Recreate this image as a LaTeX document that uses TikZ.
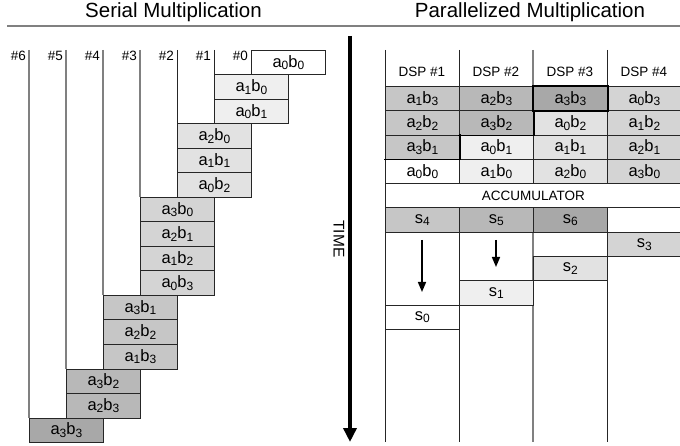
\documentclass[tikz,border=0pt]{standalone}
\usepackage{fontspec}
\setmainfont{Liberation Sans}
\usetikzlibrary{arrows.meta}
\definecolor{c0}{HTML}{FFFFFF}
\definecolor{c1}{HTML}{EFEFEF}
\definecolor{c2}{HTML}{E2E2E2}
\definecolor{c3}{HTML}{D4D4D4}
\definecolor{c4}{HTML}{C6C6C6}
\definecolor{c5}{HTML}{B8B8B8}
\definecolor{c6}{HTML}{A8A8A8}
\definecolor{edge}{HTML}{262626}
\definecolor{rulec}{HTML}{808080}
\newcommand\mysub[1]{\raisebox{-2.6pt}{\fontsize{12}{12}\selectfont #1}}
\newcommand\pr[2]{a\mysub{#1}b\mysub{#2}}
\newcommand\sm[1]{s\mysub{#1}}
\begin{document}
\begin{tikzpicture}[x=1pt,y=-1pt,
  cell/.style={draw=edge, line width=0.8pt, rectangle, minimum width=74pt, minimum height=24.5pt, inner sep=0pt, anchor=north west, font=\fontsize{16.5}{18}\selectfont},
  pcell/.style={cell, minimum height=24.3pt},
  lab/.style={inner sep=0pt, font=\fontsize{13.5}{15}\selectfont},
  title/.style={inner sep=0pt, anchor=base, font=\fontsize{20.5}{24}\selectfont},
  colline/.style={line width=1.2pt, draw=rulec},
  darkline/.style={line width=0.8pt, draw=edge},
  thickedge/.style={line width=1.4pt, draw=black, line cap=rect}]
\useasboundingbox (0,0) rectangle (680,446);

% titles
\node[title] (t1) at (173.5,18) {Serial Multiplication};
\node[title] (t2) at (530,18) {Parallelized Multiplication};
\coordinate (sepL) at (7,26);
\coordinate (sepR) at (680,26);
\draw[line width=1.5pt, draw=rulec] (sepL) -- (sepR);

% ---------- serial ----------
\foreach \i/\a/\b/\s/\L in {0/0/0/0/251, 1/1/0/1/214, 2/0/1/1/214,
  3/2/0/2/177, 4/1/1/2/177, 5/0/2/2/177,
  6/3/0/3/140, 7/2/1/3/140, 8/1/2/3/140, 9/0/3/3/140,
  10/3/1/4/103, 11/2/2/4/103, 12/1/3/4/103,
  13/3/2/5/66, 14/2/3/5/66, 15/3/3/6/29}
  \node[cell, fill=c\s] (L\a\b) at ({\L},{50+24.5*\i}) {\pr{\a}{\b}};

\foreach \k/\x in {6/29, 5/66, 4/103, 3/140, 2/177, 1/214}
  \coordinate (v\k) at (\x,50);
\draw[colline] (v6) -- (L33.north west);
\draw[colline] (v5) -- (L32.north west);
\draw[colline] (v4) -- (L31.north west);
\draw[colline] (v3) -- (L30.north west);
\draw[darkline] (v2) -- (L20.north west);
\draw[darkline] (v1) -- (L10.north west);

\foreach \k/\x in {6/29, 5/66, 4/103, 3/140, 2/177, 1/214, 0/251}
  \node[lab, anchor=east] (h\k) at (\x-3,56) {\#\k};

% ---------- time arrow ----------
\coordinate (tt) at (350,36);
\coordinate (tb) at (350,442);
\draw[line width=3.5pt, -{Triangle[width=13pt,length=14pt]}] (tt) -- (tb);
\node[inner sep=0pt, rotate=-90, font=\fontsize{15.5}{17}\selectfont] (time) at (339,239) {TIME};

% ---------- parallel ----------
\foreach \c/\x in {1/385, 2/459, 3/533, 4/607} {
  \coordinate (ct\c) at (\x,50);
  \coordinate (cb\c) at (\x,442);
}
\draw[darkline] (ct1) -- (cb1);
\draw[darkline] (ct2) -- (cb2);
\draw[colline] (ct3) -- (cb3);
\draw[darkline] (ct4) -- (cb4);

\foreach \c/\x in {1/422, 2/496, 3/570, 4/644}
  \node[lab] (dsp\c) at (\x,72) {DSP \#\c};

% product rows
\foreach \r/\a/\b/\s/\c in {
  1/1/3/4/1, 1/2/3/5/2, 1/3/3/6/3, 1/0/3/3/4,
  2/2/2/4/1, 2/3/2/5/2, 2/0/2/2/3, 2/1/2/3/4,
  3/3/1/4/1, 3/0/1/1/2, 3/1/1/2/3, 3/2/1/3/4,
  4/0/0/0/1, 4/1/0/1/2, 4/2/0/2/3, 4/3/0/3/4}
  \node[pcell, fill=c\s] (P\a\b) at ({385+74*(\c-1)},{86+24.3*(\r-1)}) {\pr{\a}{\b}};

% staircase emphasis
\draw[thickedge] (P31.north east) -- (P31.south east) -- (P31.south west);
\draw[thickedge] (P32.north east) -- (P32.south east) -- (P32.south west);
\draw[thickedge] (P33.north west) rectangle (P33.south east);

% accumulator
\node[pcell, minimum width=296pt, fill=white, font=\fontsize{13.5}{15}\selectfont] (acc) at (385,183.2) {ACCUMULATOR};

% sums
\node[pcell, fill=c4] (s4) at (385,207.5) {\sm{4}};
\node[pcell, fill=c5] (s5) at (459,207.5) {\sm{5}};
\node[pcell, fill=c6] (s6) at (533,207.5) {\sm{6}};
\node[pcell, fill=white] (e4) at (607,207.5) {};
\node[pcell, fill=c3] (s3) at (607,231.8) {\sm{3}};
\node[pcell, fill=c2] (s2) at (533,256.1) {\sm{2}};
\node[pcell, fill=c1] (s1) at (459,280.4) {\sm{1}};
\node[pcell, fill=white] (s0) at (385,304.7) {\sm{0}};

% shift arrows
\coordinate (a1t) at (422,240);
\coordinate (a1b) at (422,292);
\coordinate (a2t) at (496,240);
\coordinate (a2b) at (496,267);
\draw[line width=1.6pt, -{Triangle[width=8pt,length=10pt]}] (a1t) -- (a1b);
\draw[line width=1.6pt, -{Triangle[width=8pt,length=10pt]}] (a2t) -- (a2b);
\end{tikzpicture}
\end{document}
